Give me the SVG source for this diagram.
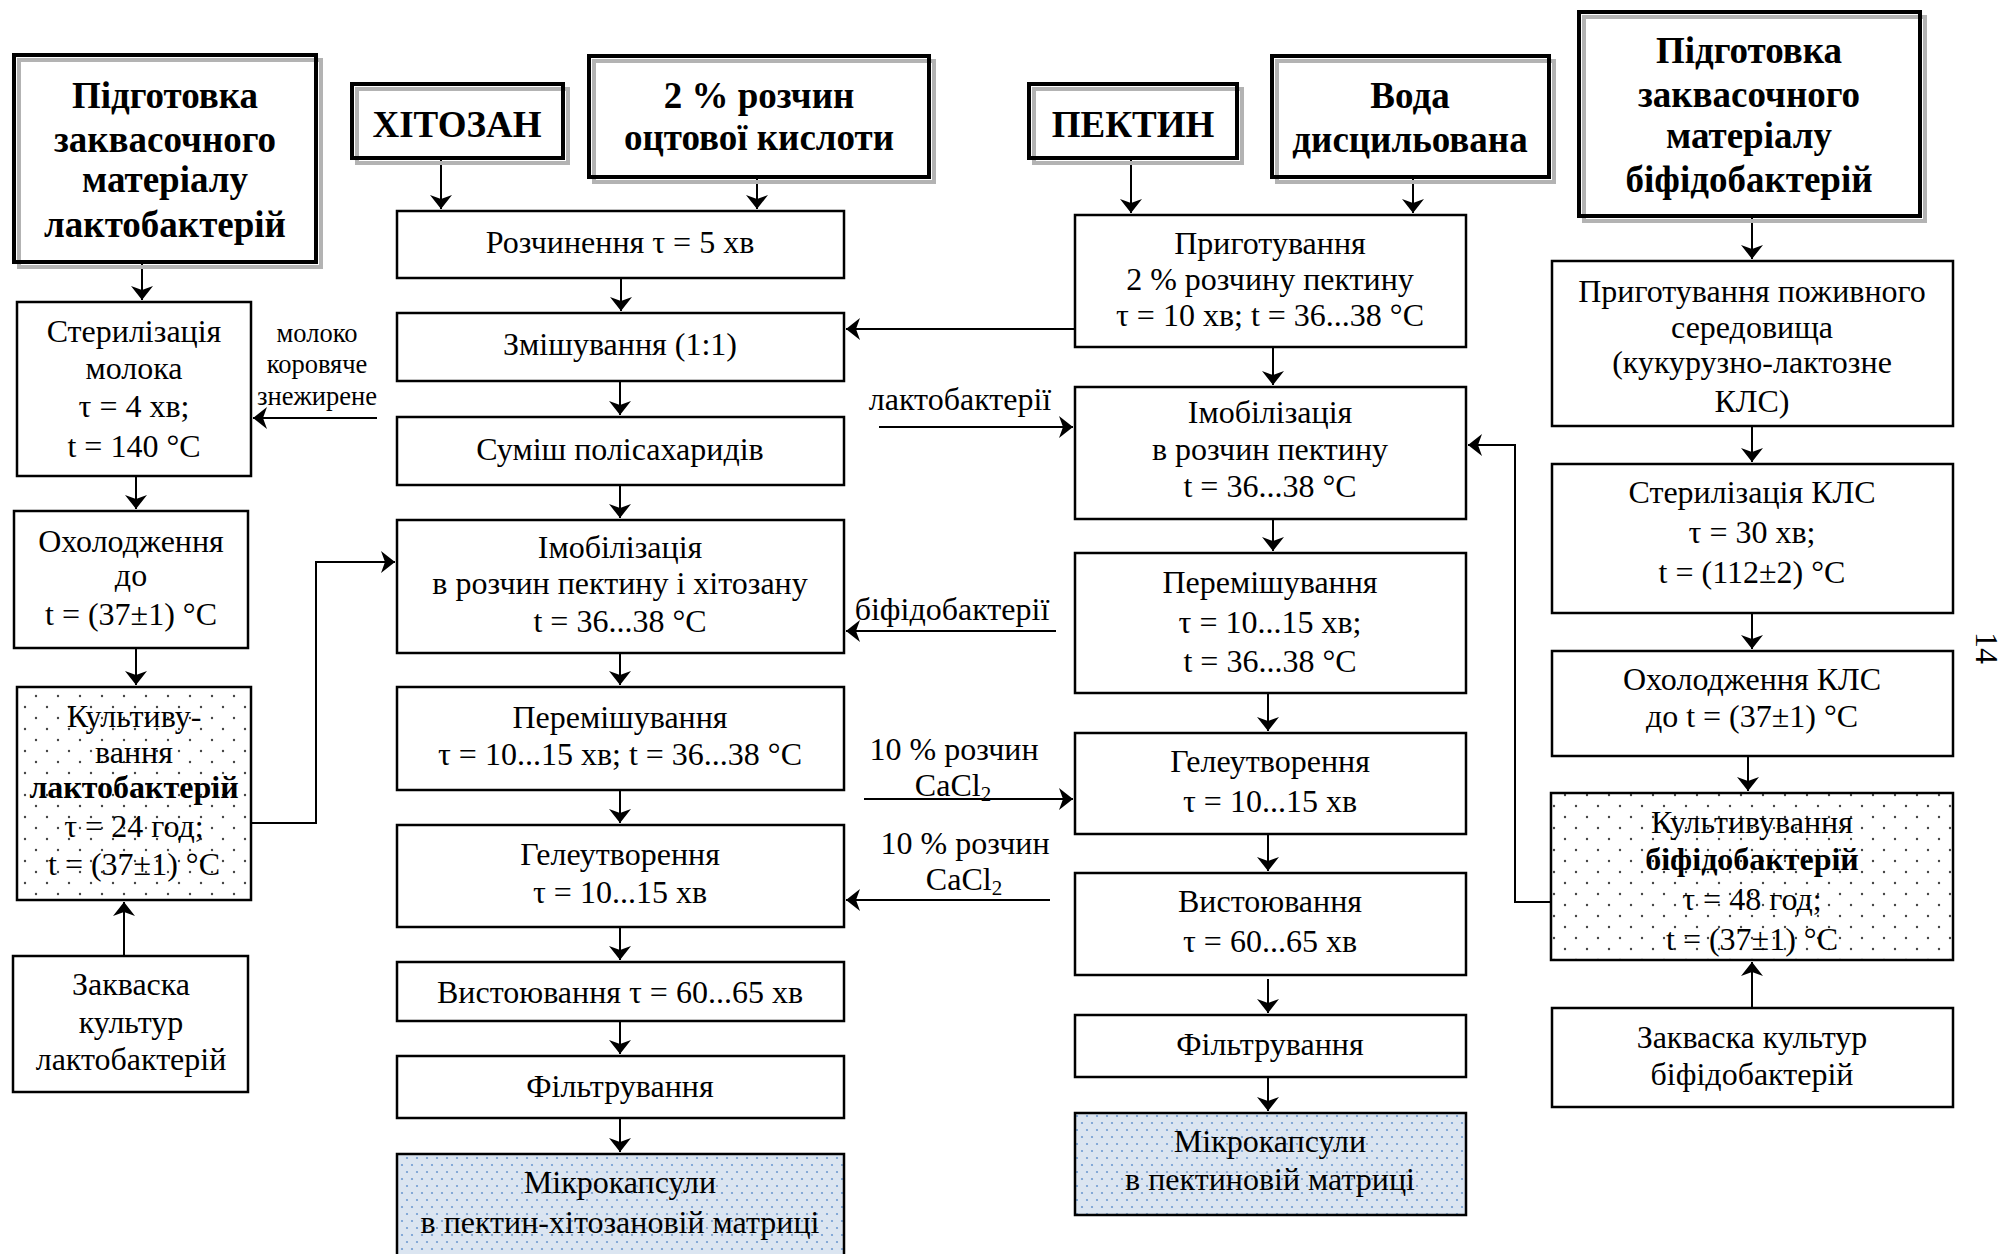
<svg xmlns="http://www.w3.org/2000/svg" width="2004" height="1254" viewBox="0 0 2004 1254">
<defs>
<style>
.box{fill:none;stroke:#000;stroke-width:2.5}
.hdr{fill:none;stroke:#000;stroke-width:4}
.shd{fill:none;stroke:#b3b3b3;stroke-width:4}
.dot{fill:url(#dots);stroke:#000;stroke-width:2.5}
.blu{fill:url(#bdots);stroke:#000;stroke-width:2.5}
.c{fill:none;stroke:#000;stroke-width:2;marker-end:url(#ar)}
text{font-family:"Liberation Serif","Times New Roman",serif;font-size:32px;text-anchor:middle;fill:#000}
.h{font-weight:bold;font-size:37px}
.b{font-weight:bold}
.s{font-size:26.5px}
</style>
<pattern id="dots" width="22" height="22" patternUnits="userSpaceOnUse">
<rect width="22" height="22" fill="#fff"/>
<circle cx="3" cy="3" r="1.2" fill="#444"/>
<circle cx="14" cy="14" r="1.2" fill="#444"/>
</pattern>
<pattern id="bdots" width="10" height="14" patternUnits="userSpaceOnUse">
<rect width="10" height="14" fill="#dbe5f1"/>
<circle cx="2" cy="3" r="1.1" fill="#6f9bd1"/>
<circle cx="7" cy="10" r="1.1" fill="#6f9bd1"/>
</pattern>
<marker id="ar" markerWidth="14" markerHeight="22" refX="14" refY="11" orient="auto" markerUnits="userSpaceOnUse">
<path d="M0,0 L14,11 L0,22 L4,11 z" fill="#000"/>
</marker>
</defs>
<rect width="2004" height="1254" fill="#fff"/>

<g id="connectors">
<path class="c" d="M142,262 V300"/>
<path class="c" d="M136,476 V509"/>
<path class="c" d="M136,648 V685"/>
<path class="c" d="M124,956 V902"/>
<path class="c" d="M251,823 H316 V562 H395"/>
<path class="c" d="M377,418 H253"/>
<path class="c" d="M441,158 V209"/>
<path class="c" d="M757,177 V209"/>
<path class="c" d="M621,278 V311"/>
<path class="c" d="M620,381 V415"/>
<path class="c" d="M620,485 V518"/>
<path class="c" d="M620,653 V685"/>
<path class="c" d="M620,790 V823"/>
<path class="c" d="M620,927 V960"/>
<path class="c" d="M620,1021 V1054"/>
<path class="c" d="M620,1118 V1152"/>
<path class="c" d="M1076,329 H846"/>
<path class="c" d="M879,427 H1073"/>
<path class="c" d="M1056,631 H846"/>
<path class="c" d="M864,799 H1073"/>
<path class="c" d="M1050,900 H846"/>
<path class="c" d="M1131,158 V213"/>
<path class="c" d="M1413,177 V213"/>
<path class="c" d="M1273,347 V385"/>
<path class="c" d="M1273,519 V551"/>
<path class="c" d="M1268,693 V731"/>
<path class="c" d="M1268,834 V871"/>
<path class="c" d="M1268,979 V1013"/>
<path class="c" d="M1268,1077 V1111"/>
<path class="c" d="M1752,216 V259"/>
<path class="c" d="M1752,426 V462"/>
<path class="c" d="M1752,613 V649"/>
<path class="c" d="M1748,756 V791"/>
<path class="c" d="M1752,1008 V962"/>
<path class="c" d="M1551,902 H1515 V445 H1468"/>
</g>

<g id="labels">
<text class="s" x="317" y="342">молоко</text>
<text class="s" x="317" y="373">коровяче</text>
<text class="s" x="317" y="405">знежирене</text>
<text x="960" y="410">лактобактерії</text>
<text x="952" y="620">біфідобактерії</text>
<text x="954" y="760">10 % розчин</text>
<text x="953" y="796">CaCl<tspan font-size="21" dy="5">2</tspan></text>
<text x="965" y="854">10 % розчин</text>
<text x="964" y="890">CaCl<tspan font-size="21" dy="5">2</tspan></text>
<text x="1976" y="648" transform="rotate(90 1976 648)">14</text>
</g>

<g id="n_lacto_hdr">
<rect class="shd" x="19" y="60" width="302" height="207"/>
<rect class="hdr" x="14" y="55" width="302" height="207"/>
<text class="h" x="165" y="108">Підготовка</text>
<text class="h" x="165" y="152">заквасочного</text>
<text class="h" x="165" y="192">матеріалу</text>
<text class="h" x="165" y="237">лактобактерій</text>
</g>
<g id="n_steril_milk">
<rect class="box" x="17" y="302" width="234" height="174"/>
<text x="134" y="342">Стерилізація</text>
<text x="134" y="379">молока</text>
<text x="134" y="417">τ = 4 хв;</text>
<text x="134" y="457">t = 140 °C</text>
</g>
<g id="n_cool_milk">
<rect class="box" x="14" y="511" width="234" height="137"/>
<text x="131" y="552">Охолодження</text>
<text x="131" y="586">до</text>
<text x="131" y="625">t = (37±1) °C</text>
</g>
<g id="n_cult_lacto">
<rect class="dot" x="17" y="687" width="234" height="213"/>
<text x="134" y="727">Культиву-</text>
<text x="134" y="763">вання</text>
<text class="b" x="134" y="798">лактобактерій</text>
<text x="134" y="837">τ = 24 год;</text>
<text x="134" y="875">t = (37±1) °C</text>
</g>
<g id="n_starter_lacto">
<rect class="box" x="13" y="956" width="235" height="136"/>
<text x="131" y="995">Закваска</text>
<text x="131" y="1033">культур</text>
<text x="131" y="1070">лактобактерій</text>
</g>

<g id="n_chitosan">
<rect class="shd" x="357" y="89" width="211" height="74"/>
<rect class="hdr" x="352" y="84" width="211" height="74"/>
<text class="h" x="457" y="137">ХІТОЗАН</text>
</g>
<g id="n_acid">
<rect class="shd" x="594" y="61" width="340" height="121"/>
<rect class="hdr" x="589" y="56" width="340" height="121"/>
<text class="h" x="759" y="108">2 % розчин</text>
<text class="h" x="759" y="150">оцтової кислоти</text>
</g>
<g id="n_dissolve">
<rect class="box" x="397" y="211" width="447" height="67"/>
<text x="620" y="253">Розчинення τ = 5 хв</text>
</g>
<g id="n_mix">
<rect class="box" x="397" y="313" width="447" height="68"/>
<text x="620" y="355">Змішування (1:1)</text>
</g>
<g id="n_polysac">
<rect class="box" x="397" y="417" width="447" height="68"/>
<text x="620" y="460">Суміш полісахаридів</text>
</g>
<g id="n_immob2">
<rect class="box" x="397" y="520" width="447" height="133"/>
<text x="620" y="558">Імобілізація</text>
<text x="620" y="594">в розчин пектину і хітозану</text>
<text x="620" y="632">t = 36...38 °C</text>
</g>
<g id="n_stir2">
<rect class="box" x="397" y="687" width="447" height="103"/>
<text x="620" y="728">Перемішування</text>
<text x="620" y="765">τ = 10...15 хв; t = 36...38 °C</text>
</g>
<g id="n_gel2">
<rect class="box" x="397" y="825" width="447" height="102"/>
<text x="620" y="865">Гелеутворення</text>
<text x="620" y="903">τ = 10...15 хв</text>
</g>
<g id="n_settle2">
<rect class="box" x="397" y="962" width="447" height="59"/>
<text x="620" y="1003">Вистоювання τ = 60...65 хв</text>
</g>
<g id="n_filter2">
<rect class="box" x="397" y="1056" width="447" height="62"/>
<text x="620" y="1097">Фільтрування</text>
</g>
<g id="n_micro2">
<rect class="blu" x="397" y="1154" width="447" height="110"/>
<text x="620" y="1193">Мікрокапсули</text>
<text x="620" y="1233">в пектин-хітозановій матриці</text>
</g>

<g id="n_pectin">
<rect class="shd" x="1034" y="89" width="208" height="74"/>
<rect class="hdr" x="1029" y="84" width="208" height="74"/>
<text class="h" x="1133" y="137">ПЕКТИН</text>
</g>
<g id="n_water">
<rect class="shd" x="1277" y="61" width="277" height="121"/>
<rect class="hdr" x="1272" y="56" width="277" height="121"/>
<text class="h" x="1410" y="108">Вода</text>
<text class="h" x="1410" y="152">дисцильована</text>
</g>
<g id="n_prep_pectin">
<rect class="box" x="1075" y="215" width="391" height="132"/>
<text x="1270" y="254">Приготування</text>
<text x="1270" y="290">2 % розчину пектину</text>
<text x="1270" y="326">τ = 10 хв; t = 36...38 °C</text>
</g>
<g id="n_immob3">
<rect class="box" x="1075" y="387" width="391" height="132"/>
<text x="1270" y="423">Імобілізація</text>
<text x="1270" y="460">в розчин пектину</text>
<text x="1270" y="497">t = 36...38 °C</text>
</g>
<g id="n_stir3">
<rect class="box" x="1075" y="553" width="391" height="140"/>
<text x="1270" y="593">Перемішування</text>
<text x="1270" y="633">τ = 10...15 хв;</text>
<text x="1270" y="672">t = 36...38 °C</text>
</g>
<g id="n_gel3">
<rect class="box" x="1075" y="733" width="391" height="101"/>
<text x="1270" y="772">Гелеутворення</text>
<text x="1270" y="812">τ = 10...15 хв</text>
</g>
<g id="n_settle3">
<rect class="box" x="1075" y="873" width="391" height="102"/>
<text x="1270" y="912">Вистоювання</text>
<text x="1270" y="952">τ = 60...65 хв</text>
</g>
<g id="n_filter3">
<rect class="box" x="1075" y="1015" width="391" height="62"/>
<text x="1270" y="1055">Фільтрування</text>
</g>
<g id="n_micro3">
<rect class="blu" x="1075" y="1113" width="391" height="102"/>
<text x="1270" y="1152">Мікрокапсули</text>
<text x="1270" y="1190">в пектиновій матриці</text>
</g>

<g id="n_bifido_hdr">
<rect class="shd" x="1584" y="17" width="341" height="204"/>
<rect class="hdr" x="1579" y="12" width="341" height="204"/>
<text class="h" x="1749" y="63">Підготовка</text>
<text class="h" x="1749" y="107">заквасочного</text>
<text class="h" x="1749" y="148">матеріалу</text>
<text class="h" x="1749" y="192">біфідобактерій</text>
</g>
<g id="n_medium">
<rect class="box" x="1552" y="261" width="401" height="165"/>
<text x="1752" y="302">Приготування поживного</text>
<text x="1752" y="338">середовища</text>
<text x="1752" y="373">(кукурузно-лактозне</text>
<text x="1752" y="412">КЛС)</text>
</g>
<g id="n_steril_kls">
<rect class="box" x="1552" y="464" width="401" height="149"/>
<text x="1752" y="503">Стерилізація КЛС</text>
<text x="1752" y="543">τ = 30 хв;</text>
<text x="1752" y="583">t = (112±2) °C</text>
</g>
<g id="n_cool_kls">
<rect class="box" x="1552" y="651" width="401" height="105"/>
<text x="1752" y="690">Охолодження КЛС</text>
<text x="1752" y="727">до t = (37±1) °C</text>
</g>
<g id="n_cult_bifido">
<rect class="dot" x="1551" y="793" width="402" height="167"/>
<text x="1752" y="833">Культивування</text>
<text class="b" x="1752" y="870">біфідобактерій</text>
<text x="1752" y="910">τ = 48 год;</text>
<text x="1752" y="950">t = (37±1) °C</text>
</g>
<g id="n_starter_bifido">
<rect class="box" x="1552" y="1008" width="401" height="99"/>
<text x="1752" y="1048">Закваска культур</text>
<text x="1752" y="1085">біфідобактерій</text>
</g>
</svg>
